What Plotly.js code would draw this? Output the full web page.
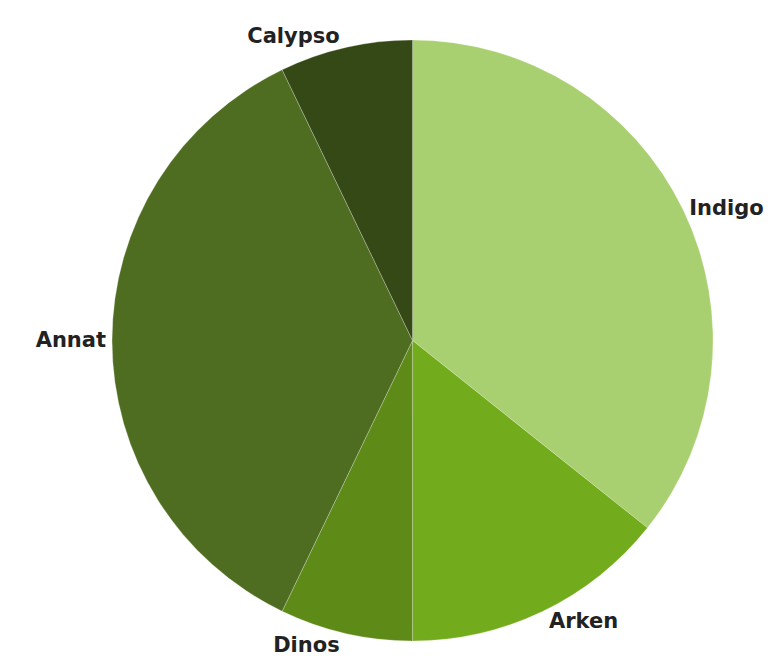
<!DOCTYPE html>
<html>
<head>
<meta charset="utf-8">
<script src="https://cdn.plot.ly/plotly-3.0.1.min.js"></script>
<style>html,body{margin:0;padding:0;background:#fff;}#chart{width:778px;height:664px;}</style>
</head>
<body>
<div id="chart"></div>
<script>
const labels = ["Indigo", "Arken", "Dinos", "Annat", "Calypso"];
const values = [5, 2, 1, 5, 1];
const colors = ["#a9d070", "#72ac1c", "#5e8a18", "#4e6d20", "#344915"];

const trace = {
  type: "pie",
  labels: labels,
  values: values,
  sort: false,
  direction: "clockwise",
  rotation: 0,
  marker: {colors: colors, line: {color: "rgba(255,255,255,0.25)", width: 1}},
  textinfo: "label",
  textposition: "outside",
  outsidetextfont: {family: "DejaVu Sans, sans-serif", size: 21, color: "#222222", weight: 700},
  hoverinfo: "label+value",
  domain: {x: [0.144, 0.9165], y: [0.0346, 0.9398]},
  showlegend: false
};

const layout = {
  width: 778,
  height: 664,
  margin: {l: 0, r: 0, t: 0, b: 0},
  paper_bgcolor: "#ffffff",
  showlegend: false
};

Plotly.newPlot("chart", [trace], layout, {displayModeBar: false, staticPlot: true});
</script>
</body>
</html>
